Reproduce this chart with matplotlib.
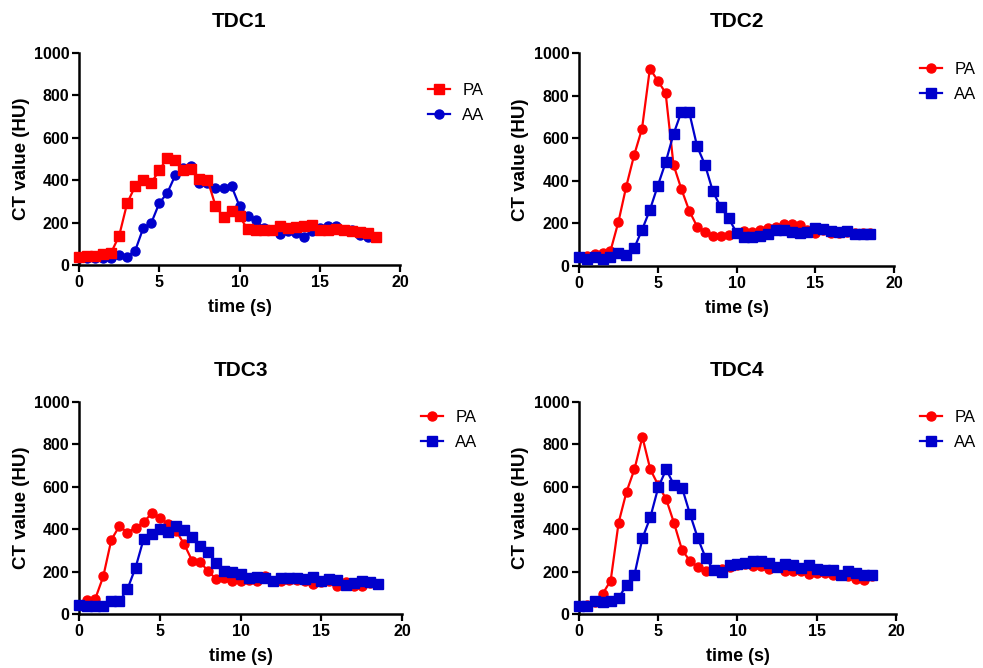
import matplotlib
matplotlib.use("Agg")
import matplotlib.pyplot as plt
import numpy as np

plt.rcParams['font.family'] = ['Liberation Sans', 'DejaVu Sans']

# time points, 0.5 s apart
time_s = np.arange(38) * 0.5

# TDC1
tdc1_pa = [40, 43, 44, 52, 58, 138, 292, 372, 400, 387, 447, 506, 495, 450, 454, 406, 403, 280, 226, 256,
           229, 169, 166, 166, 163, 185, 175, 179, 182, 188, 166, 163, 169, 166, 160, 157, 153, 134]
tdc1_aa = [32, 32, 32, 33, 32, 46, 40, 68, 174, 198, 292, 340, 424, 458, 466, 387, 387, 364, 364, 372,
           277, 232, 213, 174, 165, 147, 158, 150, 134, 158, 174, 185, 185, 166, 163, 142, 131, 130]
# TDC2
tdc2_pa = [44, 47, 55, 60, 71, 206, 373, 520, 644, 926, 870, 812, 475, 361, 259, 185, 161, 143, 143, 146,
           154, 166, 161, 169, 177, 185, 196, 196, 193, 169, 154, 169, 157, 157, 161, 157, 157, 154]
tdc2_aa = [44, 31, 41, 31, 44, 60, 52, 83, 169, 263, 376, 486, 619, 723, 721, 561, 475, 350, 276, 224,
           157, 138, 135, 141, 149, 169, 169, 161, 154, 161, 177, 172, 166, 161, 164, 149, 149, 149]
# TDC3
tdc3_pa = [44, 64, 71, 177, 350, 415, 384, 408, 433, 475, 455, 425, 393, 331, 252, 246, 201, 165, 169, 157,
           158, 161, 157, 177, 158, 154, 161, 161, 158, 141, 149, 154, 133, 149, 133, 130, 146, 141]
tdc3_aa = [44, 39, 39, 39, 60, 60, 118, 219, 354, 378, 400, 389, 415, 397, 365, 321, 292, 240, 201, 196,
           188, 169, 174, 169, 154, 169, 169, 169, 166, 174, 157, 166, 161, 135, 146, 154, 149, 141]
# TDC4
tdc4_pa = [39, 44, 55, 96, 158, 431, 577, 683, 835, 682, 608, 542, 428, 302, 251, 221, 201, 208, 212, 224,
           232, 235, 227, 227, 212, 224, 204, 204, 201, 188, 193, 193, 185, 185, 177, 166, 161, 180]
tdc4_aa = [39, 39, 60, 55, 60, 75, 138, 185, 357, 456, 597, 682, 608, 596, 472, 357, 263, 208, 196, 232,
           235, 240, 251, 248, 243, 224, 237, 232, 216, 229, 212, 208, 208, 185, 201, 193, 185, 182]

titles = ['TDC1', 'TDC2', 'TDC3', 'TDC4']
pa_series = [tdc1_pa, tdc2_pa, tdc3_pa, tdc4_pa]
aa_series = [tdc1_aa, tdc2_aa, tdc3_aa, tdc4_aa]
pa_markers = ['s', 'o', 'o', 'o']
aa_markers = ['o', 's', 's', 's']

RED = '#ff0000'
BLUE = '#0000cc'

W, H = 983, 668
fig = plt.figure(figsize=(W / 100, H / 100), dpi=100)
positions = [
    [0.0804, 0.6033, 0.3266, 0.3174],
    [0.5890, 0.6018, 0.3205, 0.3190],
    [0.0804, 0.0808, 0.3286, 0.3174],
    [0.5890, 0.0808, 0.3225, 0.3174],
]
# legend box corners (pixels from top-left), they differ a bit per panel
legend_px = [(413, 68), (905, 47), (406, 395), (905, 395)]

for k in range(4):
    ax = fig.add_axes(positions[k])
    # in TDC1 the red curve sits on top, elsewhere the blue one
    pa_z, aa_z = (3, 2) if k == 0 else (2, 3)
    ax.plot(time_s, pa_series[k], color=RED, marker=pa_markers[k], markersize=6.5,
            linewidth=1.6, label='PA', zorder=pa_z, clip_on=False)
    ax.plot(time_s, aa_series[k], color=BLUE, marker=aa_markers[k], markersize=6.5,
            linewidth=1.6, label='AA', zorder=aa_z, clip_on=False)

    ax.set_xlim(0, 20)
    ax.set_ylim(0, 1000)
    ax.set_xticks([0, 5, 10, 15, 20])
    ax.set_yticks([0, 200, 400, 600, 800, 1000])
    for s in ['top', 'right']:
        ax.spines[s].set_visible(False)
    for s in ['left', 'bottom']:
        ax.spines[s].set_linewidth(1.8)
    ax.tick_params(direction='out', length=5, width=1.6, labelsize=11.5, pad=2)
    for lab in ax.get_xticklabels() + ax.get_yticklabels():
        lab.set_fontweight('bold')
    ax.set_xlabel('time (s)', fontsize=13, fontweight='bold', labelpad=7)
    ax.set_ylabel('CT value (HU)', fontsize=13.5, fontweight='bold', labelpad=3)
    ax.set_title(titles[k], fontsize=15, fontweight='bold', pad=19)
    lx, ly = legend_px[k]
    ax.legend(loc='upper left', bbox_to_anchor=(lx / W, 1 - ly / H), bbox_transform=fig.transFigure,
              frameon=False, fontsize=12, handlelength=1.3, handletextpad=0.75, labelspacing=0.6)

fig.savefig('out.png', dpi=100)
